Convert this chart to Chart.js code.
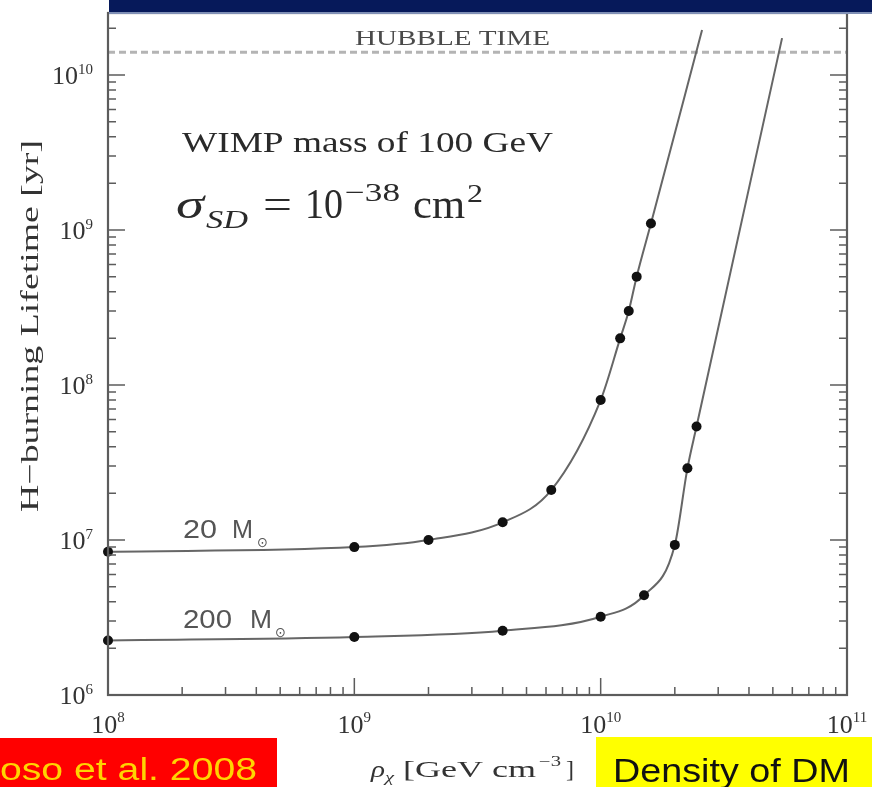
<!DOCTYPE html>
<html><head><meta charset="utf-8">
<script src="https://cdn.jsdelivr.net/npm/chart.js@4"></script>
<style>html,body{margin:0;padding:0;background:#fff;overflow:hidden}canvas{display:block}</style>
</head><body>
<canvas id="c" width="872" height="787"></canvas>
<script>
// H-burning lifetime of massive stars versus ambient WIMP density
const rhoDecades = [8, 9, 10, 11];
const lifeDecades = [6, 7, 8, 9, 10];

// 20 solar-mass models
const m20Rho  = [1e8, 1e9, 2e9, 4e9, 6.3e9, 1e10, 1.2e10, 1.3e10, 1.4e10, 1.6e10];
const m20Life = [8.4e6, 9.0e6, 1.0e7, 1.3e7, 2.1e7, 8.0e7, 2.0e8, 3.0e8, 5.0e8, 1.1e9];
// 200 solar-mass models
const m200Rho  = [1e8, 1e9, 4e9, 1e10, 1.5e10, 2e10, 2.25e10, 2.45e10];
const m200Life = [2.25e6, 2.37e6, 2.6e6, 3.2e6, 4.4e6, 9.3e6, 2.9e7, 5.4e7];

// where each track leaves the top of the frame
const m20EndRho = 2.58e10, m20EndLife = 1.95e10;
const m200EndRho = 5.45e10, m200EndLife = 1.73e10;

const hubbleTime = 1.4e10;

const pts = (xs, ys) => xs.map((x, i) => ({x, y: ys[i]}));
const SERIF = '"Liberation Serif", "DejaVu Serif", serif';
const SANS = '"Liberation Sans", Arial, sans-serif';

// draw a string stretched horizontally to a given width
function fitText(ctx, str, x, y, width, font, color) {
  ctx.save();
  ctx.font = font;
  ctx.fillStyle = color;
  ctx.textBaseline = 'alphabetic';
  ctx.textAlign = 'left';
  const w = ctx.measureText(str).width;
  ctx.translate(x, y);
  ctx.scale(width / w, 1);
  ctx.fillText(str, 0, 0);
  ctx.restore();
}

const axisColor = '#5c5c5c';

const frame = {
  id: 'frame',
  beforeDatasetsDraw(chart) {
    const {ctx, chartArea: a, scales: {y}} = chart;
    const yh = y.getPixelForValue(hubbleTime);
    ctx.save();
    ctx.strokeStyle = '#b4b4b4';
    ctx.lineWidth = 3;
    ctx.setLineDash([7, 4]);
    ctx.beginPath();
    ctx.moveTo(a.left, yh);
    ctx.lineTo(a.right, yh);
    ctx.stroke();
    ctx.restore();
    fitText(ctx, 'HUBBLE TIME', 355, 45, 195, '22px ' + SERIF, '#4a4a4a');
  },
  afterDraw(chart) {
    const {ctx, chartArea: a, scales: {x, y}} = chart;
    ctx.save();
    // frame
    ctx.strokeStyle = axisColor;
    ctx.lineWidth = 2.2;
    ctx.strokeRect(a.left, a.top, a.right - a.left, a.bottom - a.top);
    // ticks
    ctx.lineWidth = 1.5;
    ctx.beginPath();
    rhoDecades.forEach((d, i) => {
      const px = x.getPixelForValue(Math.pow(10, d));
      ctx.moveTo(px, a.bottom); ctx.lineTo(px, a.bottom - 17);
      if (i < rhoDecades.length - 1) {
        for (let m = 2; m <= 9; m++) {
          const mx = x.getPixelForValue(m * Math.pow(10, d));
          ctx.moveTo(mx, a.bottom); ctx.lineTo(mx, a.bottom - 8);
        }
      }
    });
    lifeDecades.forEach(d => {
      const py = y.getPixelForValue(Math.pow(10, d));
      ctx.moveTo(a.left, py); ctx.lineTo(a.left + 17, py);
      ctx.moveTo(a.right, py); ctx.lineTo(a.right - 17, py);
      for (let m = 2; m <= 9; m++) {
        const v = m * Math.pow(10, d);
        if (v > y.max) break;
        const my = y.getPixelForValue(v);
        ctx.moveTo(a.left, my); ctx.lineTo(a.left + 8, my);
        ctx.moveTo(a.right, my); ctx.lineTo(a.right - 8, my);
      }
    });
    ctx.stroke();

    // tick labels
    ctx.fillStyle = '#333';
    ctx.textBaseline = 'alphabetic';
    rhoDecades.forEach(d => {
      const px = x.getPixelForValue(Math.pow(10, d));
      ctx.font = '26px ' + SERIF;
      ctx.textAlign = 'left';
      const w10 = ctx.measureText('10').width;
      ctx.font = '15px ' + SERIF;
      const we = ctx.measureText(String(d)).width;
      const left = px - (w10 + we) / 2;
      ctx.font = '26px ' + SERIF;
      ctx.fillText('10', left, 733);
      ctx.font = '15px ' + SERIF;
      ctx.fillText(String(d), left + w10, 722);
    });
    lifeDecades.forEach(d => {
      const py = y.getPixelForValue(Math.pow(10, d));
      ctx.font = '15px ' + SERIF;
      ctx.textAlign = 'right';
      ctx.fillText(String(d), 93, py - 1);
      const we = ctx.measureText(String(d)).width;
      ctx.font = '26px ' + SERIF;
      ctx.fillText('10', 93 - we, py + 9);
    });

    // axis titles
    ctx.save();
    ctx.translate(38, 326);
    ctx.rotate(-Math.PI / 2);
    ctx.font = '25px ' + SERIF;
    const tw = ctx.measureText('H\u2212burning Lifetime [yr]').width;
    ctx.scale(372 / tw, 1);
    ctx.textAlign = 'center';
    ctx.fillStyle = '#333';
    ctx.fillText('H\u2212burning Lifetime [yr]', 0, 0);
    ctx.restore();

    fitText(ctx, '\u03c1', 371, 777, 14, 'italic 24px ' + SERIF, '#333');
    fitText(ctx, '\u03c7', 385, 782, 9, 'italic 14px ' + SERIF, '#333');
    fitText(ctx, '[GeV cm', 403, 777, 133, '24px ' + SERIF, '#333');
    fitText(ctx, '\u22123', 539, 766, 22, '14px ' + SERIF, '#333');
    fitText(ctx, ']', 566, 777, 8, '24px ' + SERIF, '#333');

    // annotations
    fitText(ctx, 'WIMP mass of 100 GeV', 182, 152, 371, '30px ' + SERIF, '#2a2a2a');
    fitText(ctx, '\u03c3', 176, 218, 28, 'italic 42px ' + SERIF, '#2a2a2a');
    fitText(ctx, 'SD', 206, 228, 42, 'italic 26px ' + SERIF, '#2a2a2a');
    fitText(ctx, '=', 263, 218, 29, '42px ' + SERIF, '#2a2a2a');
    fitText(ctx, '10', 305, 218, 38, '42px ' + SERIF, '#2a2a2a');
    fitText(ctx, '\u221238', 345, 201, 55, '26px ' + SERIF, '#2a2a2a');
    fitText(ctx, 'cm', 413, 218, 52, '42px ' + SERIF, '#2a2a2a');
    fitText(ctx, '2', 467, 202, 16, '26px ' + SERIF, '#2a2a2a');

    // track labels
    const lab = '#555';
    fitText(ctx, '20', 183, 538, 34, '26px ' + SANS, lab);
    fitText(ctx, 'M', 232, 538, 21, '26px ' + SANS, lab);
    fitText(ctx, '\u2299', 257, 547, 11, '14px "DejaVu Sans", sans-serif', lab);
    fitText(ctx, '200', 183, 628, 49, '26px ' + SANS, lab);
    fitText(ctx, 'M', 250, 628, 22, '26px ' + SANS, lab);
    fitText(ctx, '\u2299', 275, 637, 11, '14px "DejaVu Sans", sans-serif', lab);

    // header band
    ctx.fillStyle = '#06195a';
    ctx.fillRect(109, 0, 872 - 109, 13);
    ctx.fillStyle = '#7f8fb5';
    ctx.fillRect(109, 12, 872 - 109, 2);

    // caption boxes
    ctx.fillStyle = '#ff0000';
    ctx.fillRect(0, 738, 277, 49);
    ctx.font = '31px ' + SANS;
    const wPart = ctx.measureText('oso et al. 2008').width;
    ctx.save();
    ctx.translate(257, 780);
    ctx.scale(257 / wPart, 1);
    ctx.textAlign = 'right';
    ctx.fillStyle = '#ffd400';
    ctx.fillText('Taoso et al. 2008', 0, 0);
    ctx.restore();

    ctx.fillStyle = '#ffff00';
    ctx.fillRect(596, 737, 276, 50);
    fitText(ctx, 'Density of DM', 613, 782, 237, '33px ' + SANS, '#111');
    ctx.restore();
  }
};

const trackStyle = {
  showLine: true, pointRadius: 0, borderColor: '#666', borderWidth: 2,
  cubicInterpolationMode: 'monotone', fill: false
};
const markStyle = {
  showLine: false, pointRadius: 5, pointBackgroundColor: '#111',
  pointBorderColor: '#111', pointBorderWidth: 0, clip: false
};

new Chart(document.getElementById('c'), {
  type: 'line',
  data: {
    datasets: [
      {label: '20 Msun models', data: pts(m20Rho, m20Life), ...markStyle},
      {label: '200 Msun models', data: pts(m200Rho, m200Life), ...markStyle},
      {label: '20 Msun track', data: pts(m20Rho.concat([m20EndRho]), m20Life.concat([m20EndLife])), ...trackStyle},
      {label: '200 Msun track', data: pts(m200Rho.concat([m200EndRho]), m200Life.concat([m200EndLife])), ...trackStyle}
    ]
  },
  options: {
    responsive: false, animation: false, devicePixelRatio: 1, events: [],
    layout: {padding: {left: 108, right: 25, top: 13, bottom: 92}},
    plugins: {legend: {display: false}, tooltip: {enabled: false}},
    scales: {
      x: {type: 'logarithmic', min: 1e8, max: 1e11, display: false},
      y: {type: 'logarithmic', min: 1e6, max: Math.pow(10, 10.4), display: false}
    }
  },
  plugins: [frame]
});
</script>
</body></html>
